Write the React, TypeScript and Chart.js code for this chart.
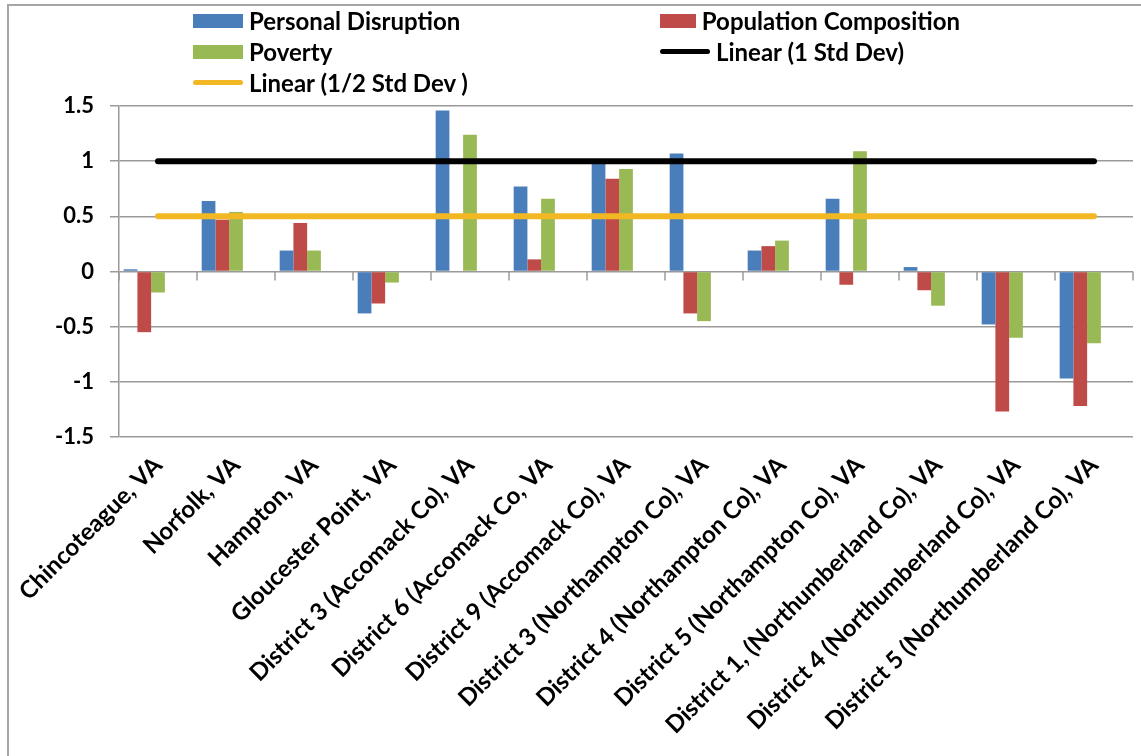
import React, { useEffect, useRef } from "react";
import { Chart, registerables } from "chart.js";

Chart.register(...registerables);

const categories = [
  "Chincoteague, VA",
  "Norfolk, VA",
  "Hampton, VA",
  "Gloucester Point, VA",
  "District 3 (Accomack Co), VA",
  "District 6 (Accomack Co, VA",
  "District 9 (Accomack Co), VA",
  "District 3 (Northampton Co), VA",
  "District 4 (Northampton Co), VA",
  "District 5 (Northampton Co), VA",
  "District 1, (Northumberland Co), VA",
  "District 4 (Northumberland Co), VA",
  "District 5 (Northumberland Co), VA",
];

const personalDisruption = [0.02, 0.64, 0.19, -0.38, 1.46, 0.77, 0.98, 1.07, 0.19, 0.66, 0.04, -0.48, -0.97];
const populationComposition = [-0.55, 0.47, 0.44, -0.29, 0, 0.11, 0.84, -0.38, 0.23, -0.12, -0.17, -1.27, -1.22];
const poverty = [-0.19, 0.54, 0.19, -0.1, 1.24, 0.66, 0.93, -0.45, 0.28, 1.09, -0.31, -0.6, -0.65];
const oneStdDev = [1, 1, 1, 1, 1, 1, 1, 1, 1, 1, 1, 1, 1];
const halfStdDev = [0.5, 0.5, 0.5, 0.5, 0.5, 0.5, 0.5, 0.5, 0.5, 0.5, 0.5, 0.5, 0.5];

const yTickLabels = ["-1.5", "-1", "-0.5", "0", "0.5", "1", "1.5"];

const seriesNames = ["Personal Disruption", "Population Composition", "Poverty", "1 Std Dev", "1/2 Std Dev"];
const trendNames = ["Linear (1 Std Dev)", "Linear (1/2 Std Dev )"];

const BLUE = "#4A7EBB";
const RED = "#BE4B48";
const GREEN = "#98B954";
const BLACK = "#000000";
const YELLOW = "#F2B824";
const GRID = "#9A9A9A";
const FONT = "Lato, 'Liberation Sans', sans-serif";

const legendItems = [
  { label: seriesNames[0], color: BLUE, kind: "box" },
  { label: seriesNames[1], color: RED, kind: "box" },
  { label: seriesNames[2], color: GREEN, kind: "box" },
  { label: trendNames[0], color: BLACK, kind: "line" },
  { label: trendNames[1], color: YELLOW, kind: "line" },
];

const zeroTicksPlugin = {
  id: "zeroTicks",
  beforeDatasetsDraw(chart: any) {
    const x = chart.scales.x;
    const y = chart.scales.y;
    const ctx = chart.ctx;
    const y0 = y.getPixelForValue(0);
    ctx.save();
    ctx.strokeStyle = GRID;
    ctx.lineWidth = 1.5;
    for (let i = 0; i <= categories.length; i++) {
      const px = x.getPixelForValue(i - 0.5);
      ctx.beginPath();
      ctx.moveTo(px, y0);
      ctx.lineTo(px, y0 + 9);
      ctx.stroke();
    }
    ctx.restore();
  },
};

export default function App() {
  const canvasRef = useRef<HTMLCanvasElement | null>(null);

  useEffect(() => {
    if (!canvasRef.current) return;
    const chart = new Chart(canvasRef.current, {
      type: "bar",
      data: {
        labels: categories,
        datasets: [
          { type: "line", label: trendNames[0], data: oneStdDev, borderColor: BLACK, borderWidth: 6, pointRadius: 0, borderCapStyle: "round", order: 0 } as any,
          { type: "line", label: trendNames[1], data: halfStdDev, borderColor: YELLOW, borderWidth: 6, pointRadius: 0, borderCapStyle: "round", order: 1 } as any,
          { type: "bar", label: seriesNames[0], data: personalDisruption, backgroundColor: BLUE, order: 2 },
          { type: "bar", label: seriesNames[1], data: populationComposition, backgroundColor: RED, order: 2 },
          { type: "bar", label: seriesNames[2], data: poverty, backgroundColor: GREEN, order: 2 },
          { type: "bar", label: seriesNames[3], data: oneStdDev, backgroundColor: "rgba(0,0,0,0)", order: 2 },
          { type: "bar", label: seriesNames[4], data: halfStdDev, backgroundColor: "rgba(0,0,0,0)", order: 2 },
        ],
      },
      options: {
        animation: false,
        responsive: true,
        maintainAspectRatio: false,
        datasets: { bar: { categoryPercentage: 0.88, barPercentage: 1 } },
        layout: { padding: { top: 106, right: 8, left: 0, bottom: 0 } },
        plugins: { legend: { display: false }, tooltip: { enabled: false } },
        scales: {
          x: {
            offset: true,
            grid: { display: false, drawTicks: false },
            border: { display: false },
            ticks: {
              autoSkip: false,
              maxRotation: 45,
              minRotation: 45,
              padding: 14,
              color: "#000",
              font: { family: FONT, size: 24, weight: "bold" },
            },
            afterFit: (scale: any) => {
              scale.height = 319;
            },
          },
          y: {
            min: -1.5,
            max: 1.5,
            ticks: {
              stepSize: 0.5,
              padding: 16,
              color: "#000",
              font: { family: FONT, size: 22, weight: "bold" },
              callback: (_v: any, i: number) => yTickLabels[i],
            },
            grid: { color: GRID, lineWidth: 1.5, tickLength: 9 },
            border: { display: true, color: GRID, width: 1.5 },
            afterFit: (scale: any) => {
              scale.width = 119;
            },
          },
        },
      } as any,
      plugins: [zeroTicksPlugin],
    });
    return () => chart.destroy();
  }, []);

  return (
    <div style={{ position: "absolute", left: 0, top: 0, width: 1141, height: 756, overflow: "hidden", background: "#fff" }}>
      <div style={{ position: "absolute", left: 7, top: 4, width: 1200, height: 800, borderLeft: "2px solid #A6A6A6", borderTop: "2px solid #A6A6A6" }} />
      <div style={{ position: "absolute", left: 0, top: 0, width: 1141, height: 756 }}>
        <canvas ref={canvasRef} />
      </div>
      <div
        style={{
          position: "absolute",
          left: 193,
          top: 5,
          display: "grid",
          gridTemplateColumns: "467px 300px",
          gridAutoRows: "31px",
          fontFamily: FONT,
          fontWeight: "bold",
          fontSize: 24,
          color: "#000",
        }}
      >
        {legendItems.map((it) => (
          <div key={it.label} style={{ display: "flex", alignItems: "center", whiteSpace: "nowrap" }}>
            <span
              style={{
                display: "inline-block",
                width: 50,
                height: it.kind === "box" ? 14 : 5,
                borderRadius: it.kind === "box" ? 0 : 3,
                background: it.color,
                marginRight: 6,
              }}
            />
            <span>{it.label}</span>
          </div>
        ))}
      </div>
    </div>
  );
}
